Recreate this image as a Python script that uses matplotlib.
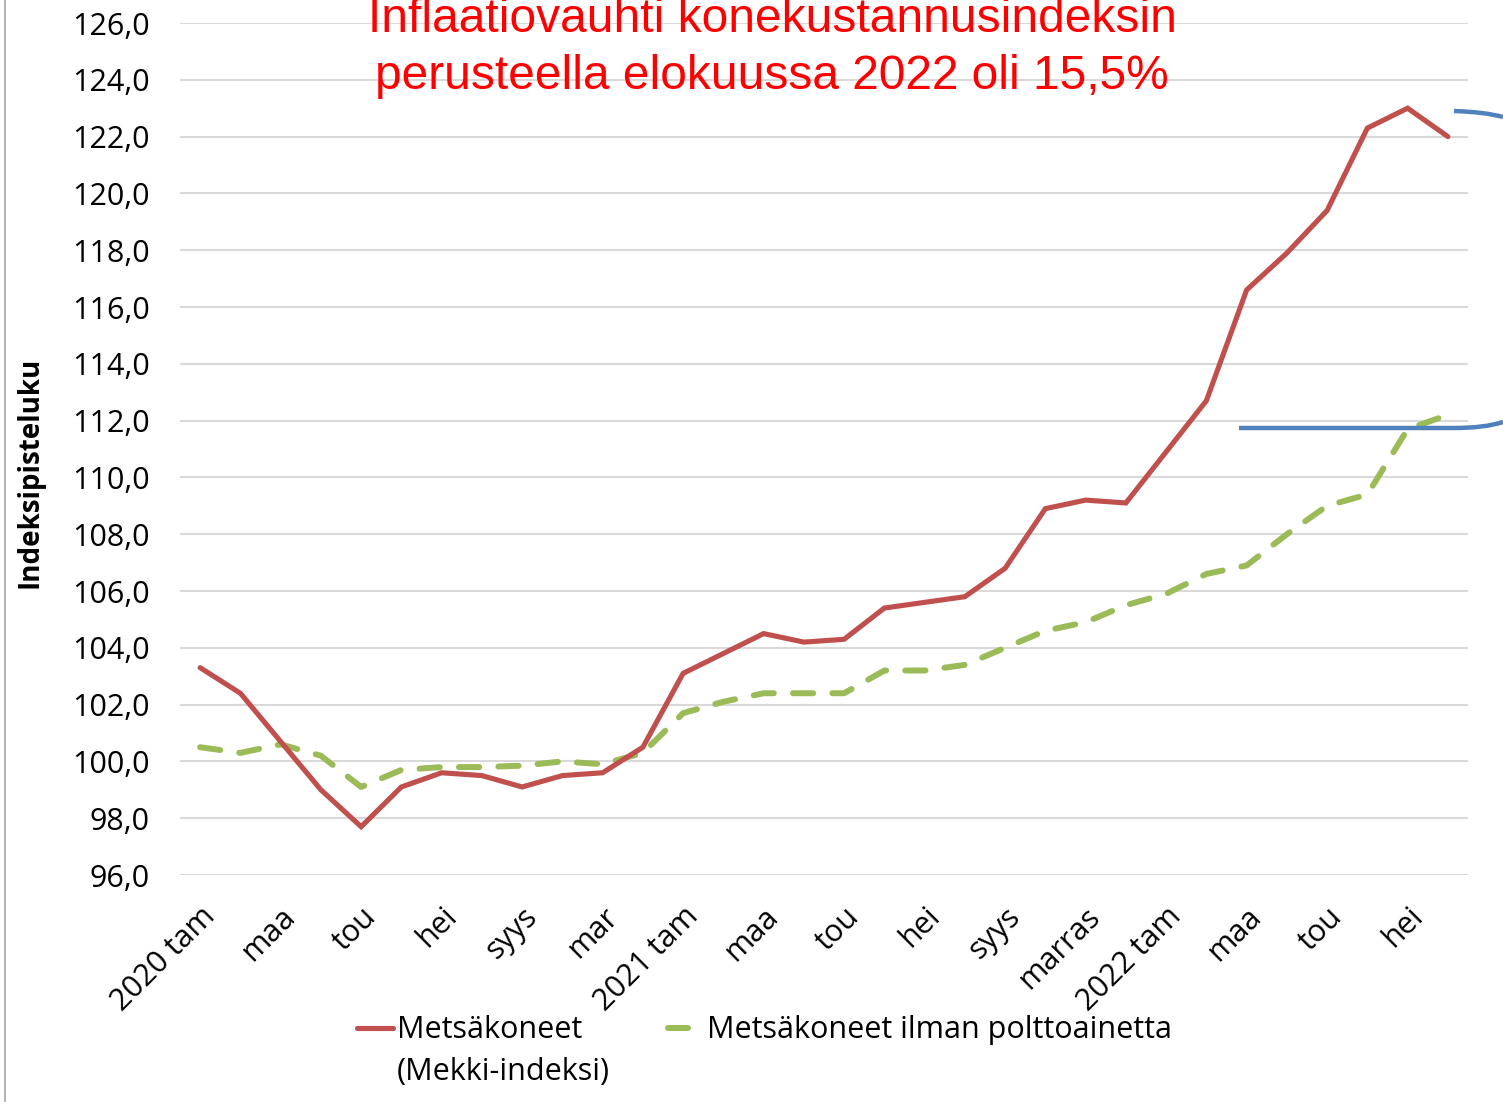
import numpy as np
import matplotlib
matplotlib.use("Agg")
import matplotlib.pyplot as plt
from matplotlib.lines import Line2D
from matplotlib.path import Path
from matplotlib.patches import PathPatch
from matplotlib.transforms import Affine2D

# kuukaudet 2020 tammi - 2022 elo
months = np.arange(32)
mekki = [103.3, 102.4, 100.7, 99.0, 97.7, 99.1, 99.6, 99.5, 99.1, 99.5, 99.6, 100.5,
         103.1, 103.8, 104.5, 104.2, 104.3, 105.4, 105.6, 105.8, 106.8, 108.9, 109.2, 109.1,
         110.9, 112.7, 116.6, 117.9, 119.4, 122.3, 123.0, 122.0]
ilman_polttoainetta = [100.5, 100.3, 100.6, 100.2, 99.1, 99.7, 99.8, 99.8, 99.85, 100.0, 99.9, 100.3,
                       101.7, 102.1, 102.4, 102.4, 102.4, 103.2, 103.2, 103.4, 104.0, 104.6, 104.9, 105.5,
                       105.9, 106.6, 106.9, 108.0, 109.0, 109.4, 111.7, 112.2]
tick_labels = ['2020 tam', 'maa', 'tou', 'hei', 'syys', 'mar', '2021 tam', 'maa', 'tou', 'hei',
               'syys', 'marras', '2022 tam', 'maa', 'tou', 'hei']

red = '#C0504D'
green = '#9BBB59'
blue = '#4F81BD'
plt.rcParams['font.family'] = ['Open Sans', 'DejaVu Sans']
fs = 22

W, H = 1503, 1102
fig = plt.figure(figsize=(W / 100, H / 100), dpi=100)
ax = fig.add_axes([180 / W, 1 - 875 / H, (1468 - 180) / W, (875 - 23) / H])

ax.plot(months, mekki, color=red, lw=3.7, solid_capstyle='round', solid_joinstyle='miter', zorder=3)
ax.plot(months, ilman_polttoainetta, color=green, lw=4.3, dashes=(3.4, 3.2),
        dash_capstyle='round', zorder=2)

ax.set_xlim(-0.5, 31.5)
ax.set_ylim(96, 126)
ax.set_yticks(np.arange(96, 127, 2))
ax.set_yticklabels([f"{v:.1f}".replace('.', ',') for v in np.arange(96, 127, 2)], fontsize=fs)
ax.set_xticks(months[::2])
ax.set_xticklabels(tick_labels, fontsize=fs, rotation=45, ha='right', rotation_mode='anchor')
ax.tick_params(axis='y', length=0, pad=22)
ax.tick_params(axis='x', length=0, pad=19)
ax.grid(axis='y', color='#D9D9D9', lw=1.5)
ax.set_axisbelow(True)
for s in ax.spines.values():
    s.set_visible(False)

fig.text(30 / W, 1 - 472 / H, 'Indeksipisteluku', rotation=90, ha='center', va='center',
         fontsize=20, fontweight='bold')

# otsikko
title_font = ['Liberation Sans', 'DejaVu Sans']
fig.text(772 / W, 1 - 32 / H, 'Inflaatiovauhti konekustannusindeksin', color='red',
         fontsize=34.5, ha='center', va='baseline', family=title_font)
fig.text(772 / W, 1 - 89 / H, 'perusteella elokuussa 2022 oli 15,5%', color='red',
         fontsize=34.5, ha='center', va='baseline', family=title_font)

# selite
fig.add_artist(Line2D([357 / W, 393 / W], [1 - 1028 / H] * 2, color=red, lw=3.7,
                      solid_capstyle='round'))
fig.text(397 / W, 1 - 1038 / H, 'Metsäkoneet', fontsize=fs, va='baseline')
fig.text(397 / W, 1 - 1080 / H, '(Mekki-indeksi)', fontsize=fs, va='baseline')
fig.add_artist(Line2D([668 / W, 688 / W], [1 - 1028 / H] * 2, color=green, lw=4.3,
                      solid_capstyle='round'))
fig.text(707 / W, 1 - 1038 / H, 'Metsäkoneet ilman polttoainetta', fontsize=fs, va='baseline')

# sininen hakasulku oikealla (kuvapikseleinä)
pix = Affine2D().scale(1, -1).translate(0, H)
bottom = Path([(1239, 428), (1454, 428), (1485, 428), (1503, 422)],
              [Path.MOVETO, Path.LINETO, Path.CURVE3, Path.CURVE3])
top = Path([(1454, 111), (1485, 112), (1503, 117)],
           [Path.MOVETO, Path.CURVE3, Path.CURVE3])
for p in (bottom, top):
    fig.add_artist(PathPatch(p, transform=pix, fill=False, ec=blue, lw=3.2))

# dian reuna vasemmalla
fig.add_artist(Line2D([5 / W, 5 / W], [0, 1], color='#A6A6A6', lw=1.2))

fig.savefig('out.png', dpi=100)
